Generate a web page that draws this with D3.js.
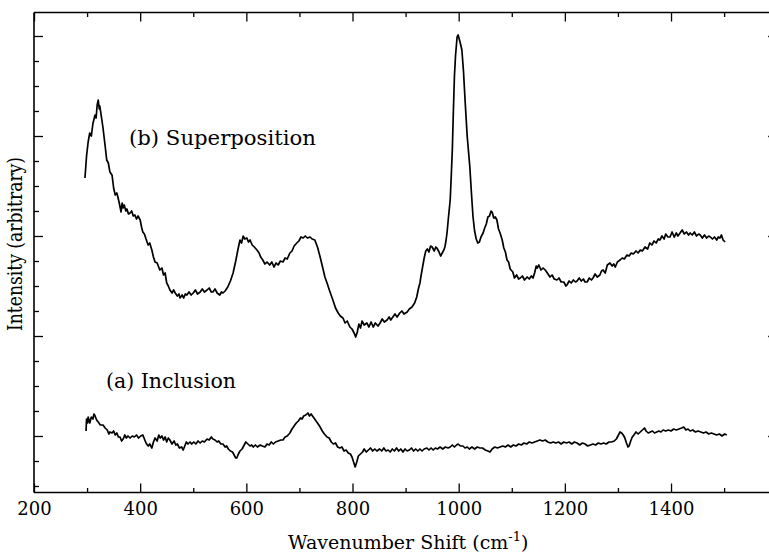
<!DOCTYPE html>
<html><head><meta charset="utf-8">
<script src="https://cdn.jsdelivr.net/npm/d3@7"></script>
<style>body{margin:0;background:#fff;} svg{display:block;}</style>
</head><body>
<svg id="c" width="769" height="556"></svg>
<script>
// ---- data ----
const xMajorTicks = [200, 400, 600, 800, 1000, 1200, 1400, 1600];
const xMinorTicks = [300, 500, 700, 900, 1100, 1300, 1500];
const yMajorTicks = [10, 30, 50, 70, 90];
const yMinorTicks = [0, 5, 15, 20, 25, 35, 40, 45, 55, 60, 65, 75, 80, 85];

const labelB = "(b) Superposition";
const labelA = "(a) Inclusion";

// (b) Superposition : wavenumber / intensity (arbitrary units)
const wnB = [296,299,302,305,308,311,315,317,319,321,323,324,327,330,334,337,340,343,347,350,353,356,358,361,364,366,368,370,373,375,378,381,384,387,390,393,396,400,403,405,408,411,415,418,422,425,428,432,437,441,444,447,450,453,456,460,463,466,470,473,475,479,482,485,488,492,496,500,504,508,513,517,521,526,530,534,537,541,545,550,553,556,560,565,570,575,580,584,588,591,594,597,601,604,607,611,615,620,624,627,631,635,639,644,648,652,656,660,664,669,673,677,682,686,690,695,699,703,707,711,715,720,724,729,734,739,744,748,752,757,763,768,773,777,782,786,790,795,799,803,806,809,812,815,818,822,827,831,835,839,843,848,852,856,860,865,869,872,876,880,884,889,893,897,903,907,912,917,921,924,927,929,931,935,938,941,944,947,950,954,957,959,963,966,969,972,974,976,978,981,984,986,988,990,992,994,997,999,1001,1003,1006,1009,1012,1016,1021,1024,1027,1030,1033,1036,1039,1042,1046,1049,1052,1055,1058,1061,1063,1066,1069,1072,1075,1078,1082,1085,1088,1091,1094,1097,1102,1105,1109,1113,1116,1120,1124,1129,1133,1137,1140,1143,1146,1148,1151,1155,1159,1163,1167,1172,1176,1180,1185,1189,1193,1198,1202,1204,1208,1212,1216,1220,1223,1227,1231,1235,1238,1242,1246,1250,1253,1257,1261,1266,1269,1272,1276,1280,1285,1289,1292,1295,1299,1304,1308,1312,1317,1321,1325,1329,1334,1338,1342,1346,1351,1356,1360,1364,1368,1372,1376,1379,1383,1387,1390,1394,1398,1402,1406,1410,1413,1417,1421,1425,1429,1433,1436,1440,1444,1448,1452,1455,1459,1463,1467,1471,1474,1478,1482,1486,1489,1492,1495,1498,1502];
const intB = [61.6,66.0,68.8,70.6,70.0,72.5,74.2,73.6,76.2,77.2,75.4,76.0,73.8,71.6,68.0,65.2,64.6,62.8,62.2,59.6,58.2,58.6,57.8,56.4,54.8,56.6,55.6,56.2,55.0,55.4,54.4,54.6,55.0,54.0,54.2,53.4,54.0,53.2,51.6,50.8,50.4,49.4,48.2,48.6,47.2,45.8,44.8,44.6,43.2,43.6,42.2,42.6,40.6,40.0,39.2,38.6,39.2,38.6,38.0,38.4,37.6,38.2,37.6,38.4,38.2,38.8,38.2,38.6,39.2,38.4,38.8,39.4,38.8,39.2,39.6,38.8,38.8,39.4,38.6,38.2,38.8,38.6,39.0,39.8,41.0,42.6,45.0,47.2,49.2,48.6,50.0,49.4,49.6,48.8,49.2,48.2,47.8,47.2,46.6,45.8,45.2,44.4,44.8,44.2,44.8,43.8,44.6,44.2,45.0,44.8,45.6,45.4,46.6,47.0,48.0,48.6,49.0,49.8,49.6,50.0,49.6,49.8,49.4,49.2,47.8,45.8,43.6,41.8,40.6,39.0,37.2,35.6,34.6,34.0,33.6,32.6,33.0,31.8,31.4,30.6,29.8,30.8,32.4,31.6,33.0,32.2,32.6,31.8,32.8,31.8,32.6,32.0,32.6,33.4,32.8,33.2,33.8,33.2,33.8,34.4,33.8,34.6,35.0,34.4,34.8,35.4,35.8,36.6,37.8,39.4,40.6,42.0,43.2,45.6,47.0,47.4,46.8,48.0,47.8,47.0,47.8,47.6,46.8,46.0,46.6,47.2,47.8,49.0,50.6,54.0,57.2,62.0,67.2,75.0,82.0,86.0,89.8,90.2,89.4,88.6,87.2,83.0,77.2,70.0,63.8,58.6,53.8,51.0,49.4,48.6,48.8,49.8,50.6,51.6,52.4,53.8,54.0,55.0,54.8,53.6,53.8,53.2,51.4,50.6,49.2,47.6,46.8,45.2,44.8,43.4,42.8,41.6,42.2,41.4,41.6,42.0,41.2,41.8,41.4,42.0,41.6,42.6,44.0,43.6,44.2,43.2,43.6,43.2,42.6,41.8,42.2,41.4,41.2,41.6,40.8,40.8,40.0,40.2,41.0,40.6,41.2,40.8,41.0,41.6,41.0,41.4,40.8,40.8,41.6,41.2,41.6,42.4,41.8,42.2,43.0,43.2,42.6,44.2,44.6,44.0,44.4,43.8,44.8,45.2,45.6,45.4,46.2,46.0,46.6,46.4,47.0,46.6,47.2,47.0,47.8,47.4,48.6,48.2,49.0,48.6,49.4,49.2,50.0,49.4,50.4,49.8,49.8,50.8,49.8,50.6,50.0,50.6,51.2,50.4,50.8,50.2,50.6,50.2,50.8,50.0,50.4,50.2,49.6,50.2,49.6,50.0,49.8,49.4,49.8,49.2,49.8,49.6,50.2,49.2,48.8];

// (a) Inclusion
const wnA = [298,299,301,302,304,305,308,311,313,315,318,321,325,330,334,338,341,343,347,350,353,356,359,362,365,368,371,374,377,381,385,389,393,397,401,405,408,411,415,418,422,425,428,432,435,438,441,444,447,450,453,456,460,464,467,470,474,478,481,484,487,490,494,497,501,505,509,513,517,521,526,530,534,537,541,545,548,552,556,560,563,566,570,574,577,580,582,585,588,592,596,599,603,607,610,613,617,621,626,630,635,639,643,647,651,655,660,665,669,673,677,682,686,690,694,698,702,705,708,712,716,719,722,726,730,734,739,743,747,752,756,760,764,768,772,776,780,784,788,792,796,799,802,805,808,811,815,819,822,826,830,834,838,842,846,851,855,859,863,867,871,875,879,883,887,891,895,899,903,907,911,915,919,923,927,931,935,940,944,948,952,956,960,965,970,975,980,984,988,992,996,999,1003,1008,1012,1016,1020,1025,1030,1035,1040,1045,1050,1055,1059,1063,1068,1073,1078,1083,1088,1093,1098,1103,1108,1113,1118,1123,1128,1133,1138,1143,1148,1153,1158,1163,1168,1173,1178,1183,1188,1193,1198,1203,1208,1213,1218,1223,1228,1233,1238,1243,1248,1253,1258,1263,1268,1273,1278,1283,1288,1293,1297,1301,1304,1307,1310,1313,1316,1319,1321,1324,1327,1330,1334,1338,1342,1346,1350,1353,1357,1361,1365,1369,1373,1377,1381,1385,1390,1395,1400,1405,1410,1415,1420,1424,1428,1432,1436,1441,1446,1451,1456,1461,1466,1471,1476,1481,1486,1491,1496,1501,1505];
const intA = [11.0,13.4,12.6,13.8,13.0,12.6,13.8,13.4,14.4,14.0,13.2,12.8,12.2,12.2,11.6,11.2,10.4,10.8,10.6,11.0,10.2,10.6,9.8,9.8,9.0,9.4,10.2,9.6,10.0,9.6,10.0,9.8,10.2,9.6,10.0,10.2,9.4,8.6,8.0,8.4,7.6,8.8,9.6,9.0,10.2,9.6,10.0,9.2,9.8,8.8,9.6,9.2,8.4,9.0,8.2,8.4,7.6,7.8,7.2,8.0,8.8,8.4,8.8,8.4,8.8,8.4,9.0,8.6,9.0,8.8,9.4,9.2,9.8,9.4,9.2,8.8,9.0,8.4,8.4,7.8,8.0,7.4,7.0,6.8,6.2,5.6,5.6,6.4,7.0,7.4,8.2,8.8,8.4,8.0,8.2,7.8,8.2,7.8,8.2,8.0,7.8,8.4,8.2,8.8,8.4,8.8,9.0,9.2,9.2,9.8,10.0,10.6,11.4,12.0,12.6,13.0,13.6,13.4,14.0,14.2,14.6,14.0,14.4,13.8,13.2,12.6,11.8,11.0,10.4,9.8,9.6,8.8,8.4,8.6,7.8,7.6,7.8,7.0,7.2,6.6,6.4,5.8,4.8,3.8,4.8,6.0,6.4,6.8,7.4,6.8,7.2,7.6,7.0,7.4,7.0,7.4,7.0,7.6,7.0,7.2,6.8,7.4,7.0,7.6,7.0,7.4,6.8,7.4,7.0,7.2,7.6,7.0,7.4,7.0,7.4,7.0,7.4,7.6,7.2,7.6,7.2,7.6,7.4,7.8,7.4,7.8,7.6,7.8,8.2,7.8,8.2,8.4,8.0,8.0,7.6,7.8,7.4,7.8,7.4,7.8,7.6,7.6,7.2,7.0,6.8,7.4,7.8,7.6,7.8,8.0,7.8,8.2,7.8,8.2,8.0,8.4,8.2,8.6,8.4,8.8,8.6,8.8,9.0,9.2,9.0,9.2,8.8,8.6,8.8,8.6,8.8,8.4,8.8,8.6,8.8,8.4,8.8,8.6,8.2,8.6,8.4,8.0,8.2,8.4,8.2,8.6,8.4,8.6,8.4,8.8,8.8,9.0,9.4,10.2,10.8,10.6,10.2,9.6,8.6,7.8,8.0,9.0,9.8,10.2,10.8,10.4,10.8,11.2,11.6,11.0,10.6,10.8,11.0,10.6,10.8,11.0,10.8,11.2,11.0,11.2,11.0,11.4,11.2,11.4,11.6,11.8,11.2,11.4,11.0,11.2,10.8,11.0,10.8,10.6,10.8,10.4,10.6,10.4,10.2,10.4,10.0,10.4,10.2];

// ---- drawing ----
const svg = d3.select("#c");
const FONT = "'Palatino Linotype','Book Antiqua',Palatino,'URW Palladio L','DejaVu Serif',serif";
const x = d3.scaleLinear().domain([200, 1600]).range([34, 777.2]);
const y = d3.scaleLinear().domain([-1.3, 94.7]).range([492.5, 12.5]);

const [x0, x1] = x.range();
const [yb, yt] = y.range();

function styleAxis(g) {
  g.select(".domain").remove();
  g.selectAll(".tick line").attr("stroke", "#000").attr("stroke-width", 1.3);
}

// bottom axis with labels
svg.append("g").attr("transform", `translate(0,${yb})`)
  .call(d3.axisBottom(x).tickValues(xMajorTicks.filter(d => d <= 1400)).tickSize(-9).tickPadding(10).tickFormat(d3.format("d")))
  .call(styleAxis)
  .call(g => g.selectAll("text").attr("font-family", FONT).attr("font-size", 18).attr("fill", "#000"));
svg.append("g").attr("transform", `translate(0,${yb})`)
  .call(d3.axisBottom(x).tickValues(xMinorTicks).tickSize(-4.5).tickFormat(""))
  .call(styleAxis);
// top axis
svg.append("g").attr("transform", `translate(0,${yt})`)
  .call(d3.axisTop(x).tickValues(xMajorTicks).tickSize(-9).tickFormat(""))
  .call(styleAxis);
svg.append("g").attr("transform", `translate(0,${yt})`)
  .call(d3.axisTop(x).tickValues(xMinorTicks).tickSize(-4.5).tickFormat(""))
  .call(styleAxis);
// left axis
svg.append("g").attr("transform", `translate(${x0},0)`)
  .call(d3.axisLeft(y).tickValues(yMajorTicks).tickSize(-9).tickFormat(""))
  .call(styleAxis);
svg.append("g").attr("transform", `translate(${x0},0)`)
  .call(d3.axisLeft(y).tickValues(yMinorTicks).tickSize(-5).tickFormat(""))
  .call(styleAxis);
// right axis
svg.append("g").attr("transform", `translate(${x1},0)`)
  .call(d3.axisRight(y).tickValues(yMajorTicks).tickSize(-9).tickFormat(""))
  .call(styleAxis);

// frame
const frame = svg.append("g").attr("stroke", "#000").attr("stroke-width", 1.6).attr("fill", "none");
frame.append("line").attr("x1", x0).attr("x2", x0).attr("y1", yt).attr("y2", yb);
frame.append("line").attr("x1", x0).attr("x2", x1).attr("y1", yt).attr("y2", yt);
frame.append("line").attr("x1", x0).attr("x2", x1).attr("y1", yb).attr("y2", yb);
frame.append("line").attr("x1", x1).attr("x2", x1).attr("y1", yt).attr("y2", yb);

// curves
const line = d3.line().x(d => x(d[0])).y(d => y(d[1]));
const seriesB = d3.zip(wnB, intB);
const seriesA = d3.zip(wnA, intA);
[seriesB, seriesA].forEach(s => {
  svg.append("path").datum(s).attr("d", line)
    .attr("fill", "none").attr("stroke", "#000").attr("stroke-width", 1.7)
    .attr("stroke-linejoin", "round");
});

// annotations
svg.append("text").attr("x", 129).attr("y", 145).attr("font-family", FONT).attr("font-size", 21)
  .attr("textLength", 187).attr("lengthAdjust", "spacingAndGlyphs").text(labelB);
svg.append("text").attr("x", 106).attr("y", 388).attr("font-family", FONT).attr("font-size", 21)
  .attr("textLength", 130).attr("lengthAdjust", "spacingAndGlyphs").text(labelA);

// x-axis title (single text element with superscript tspan)
const xt = svg.append("text").attr("x", 288).attr("y", 549)
  .attr("font-family", FONT).attr("font-size", 19);
xt.append("tspan").text("Wavenumber Shift (cm");
xt.append("tspan").attr("dy", -8).attr("font-size", 13).text("-1");
xt.append("tspan").attr("dy", 8).text(")");

svg.append("text").attr("transform", "translate(22,244) rotate(-90)").attr("text-anchor", "middle")
  .attr("font-family", FONT).attr("font-size", 20)
  .attr("textLength", 174).attr("lengthAdjust", "spacingAndGlyphs").text("Intensity (arbitrary)");
</script>
</body></html>
